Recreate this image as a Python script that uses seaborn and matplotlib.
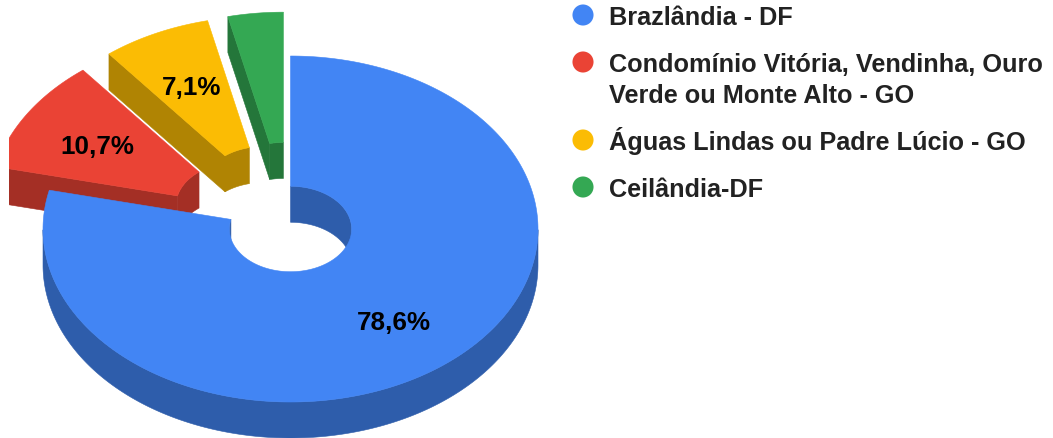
import textwrap
import numpy as np
import matplotlib
matplotlib.use("Agg")
import matplotlib.pyplot as plt
from matplotlib.patches import Polygon
from matplotlib.colors import to_rgb
import seaborn as sns

# Data
categories = ["Brazlândia - DF",
              "Condomínio Vitória, Vendinha, Ouro Verde ou Monte Alto - GO",
              "Águas Lindas ou Padre Lúcio - GO",
              "Ceilândia-DF"]
shares = [78.6, 10.7, 7.1, 3.6]
colors = ["#4285F4", "#EA4335", "#FBBC04", "#34A853"]
explode = [0.0, 0.255, 0.255, 0.255]

sns.set_style("white")
plt.rcParams["font.family"] = ["Liberation Sans", "DejaVu Sans"]

# pie geometry (pixel units)
CX, CY, RX, RY = 290.5, 230.0, 247.5, 173.0
HOLE = 0.247
DEPTH = 36.0


def pt(phi, r, ox, oy, dz=0.0):
    phi = np.atleast_1d(phi)
    return np.column_stack([CX + ox + r * RX * np.cos(phi),
                            CY + oy - r * RY * np.sin(phi) + dz])


def runs(mask):
    idx = np.flatnonzero(mask)
    if len(idx) == 0:
        return []
    return np.split(idx, np.flatnonzero(np.diff(idx) > 1) + 1)


def wall(phis, r, ox, oy):
    return np.vstack([pt(phis, r, ox, oy), pt(phis[::-1], r, ox, oy, DEPTH)])


def cut_face(phi, ox, oy):
    return np.vstack([pt(phi, HOLE, ox, oy), pt(phi, 1, ox, oy),
                      pt(phi, 1, ox, oy, DEPTH), pt(phi, HOLE, ox, oy, DEPTH)])


fig = plt.figure(figsize=(10.53, 4.39), dpi=100)
ax = fig.add_axes([9 / 1053, 0, (560 - 9) / 1053, 1])
ax.set_xlim(9, 560)
ax.set_ylim(439, 0)
ax.axis("off")

total = sum(shares)
cum = np.cumsum([0] + shares) / total * 360
slices = []
for i, share in enumerate(shares):
    p1 = np.radians(90 - cum[i])
    p2 = np.radians(90 - cum[i + 1])
    m = (p1 + p2) / 2
    ox = explode[i] * RX * np.cos(m)
    oy = -explode[i] * RY * np.sin(m)
    phis = np.linspace(p1, p2, 600)
    top = np.vstack([pt(phis, 1, ox, oy), pt(phis[::-1], HOLE, ox, oy)])
    slices.append((i, p1, p2, m, ox, oy, phis, top))

# draw back to front
slices.sort(key=lambda s: s[7][:, 1].mean())

for i, p1, p2, m, ox, oy, phis, top in slices:
    face = to_rgb(colors[i])
    side = tuple(c * 0.7 for c in face)
    polys = []
    for run in runs(np.sin(phis) < 0):
        polys.append(wall(phis[run], 1, ox, oy))
    for run in runs(np.sin(phis) > 0):
        polys.append(wall(phis[run], HOLE, ox, oy))
    if np.cos(p1) < -1e-6:
        polys.append(cut_face(p1, ox, oy))
    if np.cos(p2) > 1e-6:
        polys.append(cut_face(p2, ox, oy))
    for poly in polys:
        ax.add_patch(Polygon(poly, closed=True, facecolor=side, edgecolor=side, lw=0.4))
    ax.add_patch(Polygon(top, closed=True, facecolor=face, edgecolor=face, lw=0.4))

    if shares[i] >= 5:
        lx, ly = pt(m, 0.67, ox, oy)[0]
        ax.text(lx, ly + 9, f"{shares[i]:.1f}%".replace(".", ","), ha="center", va="baseline",
                fontsize=18.7, fontweight="bold", color="black")

# legend
lax = fig.add_axes([0, 0, 1, 1])
lax.set_xlim(0, 1053)
lax.set_ylim(439, 0)
lax.axis("off")
y = 16
for i, name in enumerate(categories):
    lines = textwrap.wrap(name, width=34)
    lax.scatter([583], [y], s=230, color=colors[i], edgecolors="none")
    for k, line in enumerate(lines):
        lax.text(609, y + k * 31 + 9, line, ha="left", va="baseline",
                 fontsize=18.2, fontweight="bold", color="#222222")
    y += (len(lines) - 1) * 31 + 47

fig.savefig("out.png", dpi=100)
